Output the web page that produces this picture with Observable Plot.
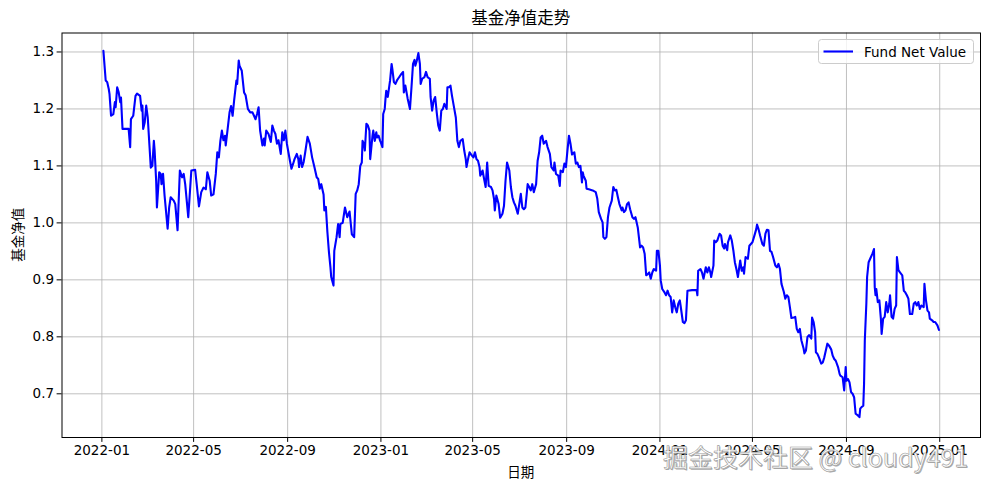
<!DOCTYPE html>
<html><head><meta charset="utf-8">
<script src="https://cdn.jsdelivr.net/npm/d3@7"></script>
<script src="https://cdn.jsdelivr.net/npm/@observablehq/plot@0.6"></script>
<style>html,body{margin:0;padding:0;background:#fff}svg{display:block}</style>
</head><body><div id="chart"></div>
<script>
const chartTitle = "基金净值走势";
const xLabel = "日期";
const yLabel = "基金净值";
const seriesName = "Fund Net Value";
const watermark = "掘金技术社区 @ cloudy491";
const xTickDates = ["2022-01-01","2022-05-01","2022-09-01","2023-01-01","2023-05-01","2023-09-01","2024-01-01","2024-05-01","2024-09-01","2025-01-01"];
const yTicks = [0.7, 0.8, 0.9, 1.0, 1.1, 1.2, 1.3];

const nav2022 = [["01-03",1.302],["01-06",1.250],["01-08",1.247],["01-10",1.235],["01-11",1.226],["01-13",1.188],["01-16",1.191],["01-18",1.212],["01-19",1.203],["01-21",1.238],["01-23",1.229],["01-25",1.212],["01-26",1.220],["01-28",1.165],["02-05",1.165],["02-07",1.133],["02-08",1.182],["02-11",1.188],["02-14",1.223],["02-16",1.227],["02-20",1.223],["02-22",1.197],["02-23",1.206],["02-24",1.165],["02-26",1.176],["02-28",1.206],["03-02",1.185],["03-06",1.097],["03-08",1.100],["03-10",1.144],["03-11",1.127],["03-13",1.074],["03-14",1.027],["03-17",1.089],["03-19",1.086],["03-20",1.068],["03-22",1.086],["03-24",1.048],["03-28",0.990],["03-30",1.027],["04-01",1.045],["04-05",1.039],["04-07",1.033],["04-10",0.987],["04-13",1.092],["04-16",1.080],["04-18",1.086],["04-20",1.068],["04-24",1.010],["04-26",1.051],["04-28",1.092],["05-03",1.093],["05-05",1.068],["05-08",1.029],["05-11",1.054],["05-14",1.062],["05-17",1.059],["05-19",1.089],["05-22",1.074],["05-24",1.048],["05-27",1.050],["05-30",1.086],["06-01",1.124],["06-03",1.115],["06-05",1.144],["06-07",1.162],["06-09",1.145],["06-11",1.153],["06-12",1.136],["06-14",1.159],["06-17",1.194],["06-19",1.205],["06-21",1.188],["06-23",1.215],["06-26",1.250],["06-27",1.244],["06-29",1.285],["06-30",1.276],["07-03",1.267],["07-06",1.229],["07-08",1.224],["07-11",1.200],["07-14",1.194],["07-17",1.194],["07-19",1.188],["07-21",1.182],["07-23",1.191],["07-25",1.203],["07-27",1.162],["07-30",1.136],["08-01",1.148],["08-02",1.136],["08-04",1.162],["08-07",1.156],["08-10",1.142],["08-12",1.171],["08-14",1.162],["08-16",1.156],["08-18",1.139],["08-20",1.145],["08-23",1.121],["08-25",1.159],["08-27",1.145],["08-29",1.162],["08-31",1.139],["09-04",1.109],["09-06",1.095],["09-08",1.103],["09-10",1.112],["09-13",1.121],["09-15",1.112],["09-16",1.098],["09-18",1.118],["09-20",1.098],["09-22",1.107],["09-24",1.124],["09-27",1.151],["09-30",1.139],["10-03",1.115],["10-06",1.098],["10-09",1.080],["10-11",1.077],["10-13",1.060],["10-15",1.068],["10-18",1.050],["10-19",1.022],["10-21",1.028],["10-23",0.984],["10-25",0.949],["10-27",0.922],["10-28",0.905],["10-31",0.890],["11-01",0.951],["11-04",0.975],["11-06",0.998],["11-08",0.975],["11-09",0.998],["11-12",1.000],["11-15",1.027],["11-18",1.010],["11-21",1.020],["11-24",0.980],["11-27",0.975],["11-29",1.051],["12-01",1.057],["12-03",1.068],["12-05",1.100],["12-07",1.106],["12-08",1.144],["12-10",1.138],["12-11",1.127],["12-13",1.174],["12-15",1.171],["12-17",1.162],["12-18",1.112],["12-21",1.153],["12-22",1.162],["12-24",1.144],["12-26",1.159],["12-27",1.150],["12-29",1.153],["12-31",1.144]];

const nav2023 = [["01-01",1.141],["01-03",1.133],["01-04",1.191],["01-06",1.200],["01-07",1.218],["01-08",1.232],["01-10",1.221],["01-13",1.250],["01-15",1.279],["01-16",1.270],["01-18",1.247],["01-20",1.244],["01-22",1.250],["01-25",1.256],["01-28",1.262],["01-30",1.265],["01-31",1.229],["02-02",1.241],["02-05",1.218],["02-07",1.206],["02-08",1.200],["02-10",1.238],["02-12",1.279],["02-14",1.286],["02-15",1.276],["02-17",1.285],["02-19",1.298],["02-21",1.279],["02-22",1.244],["02-24",1.253],["02-27",1.256],["03-01",1.265],["03-03",1.256],["03-06",1.253],["03-07",1.221],["03-09",1.197],["03-11",1.215],["03-13",1.221],["03-15",1.194],["03-17",1.171],["03-19",1.162],["03-21",1.197],["03-23",1.200],["03-25",1.209],["03-28",1.200],["03-29",1.238],["03-31",1.238],["04-02",1.241],["04-04",1.223],["04-07",1.200],["04-09",1.185],["04-11",1.144],["04-13",1.133],["04-15",1.144],["04-18",1.147],["04-20",1.127],["04-22",1.112],["04-23",1.098],["04-25",1.112],["04-27",1.124],["04-30",1.118],["05-02",1.115],["05-04",1.124],["05-06",1.112],["05-08",1.109],["05-10",1.098],["05-11",1.083],["05-14",1.092],["05-16",1.077],["05-18",1.063],["05-20",1.106],["05-22",1.065],["05-25",1.063],["05-27",1.057],["05-29",1.042],["05-30",1.022],["06-01",1.048],["06-04",1.033],["06-06",1.009],["06-09",1.016],["06-11",1.030],["06-13",1.074],["06-15",1.106],["06-18",1.092],["06-20",1.063],["06-22",1.045],["06-24",1.036],["06-26",1.030],["06-29",1.016],["07-01",1.033],["07-03",1.051],["07-05",1.027],["07-07",1.024],["07-09",1.027],["07-12",1.068],["07-14",1.063],["07-16",1.057],["07-18",1.068],["07-20",1.054],["07-23",1.068],["07-25",1.109],["07-27",1.124],["07-29",1.150],["07-31",1.153],["08-02",1.139],["08-05",1.144],["08-07",1.133],["08-10",1.121],["08-12",1.098],["08-15",1.092],["08-16",1.106],["08-18",1.086],["08-21",1.083],["08-23",1.065],["08-24",1.092],["08-27",1.089],["08-29",1.104],["08-31",1.098],["09-02",1.127],["09-04",1.153],["09-06",1.139],["09-08",1.120],["09-11",1.124],["09-13",1.104],["09-15",1.106],["09-17",1.098],["09-19",1.100],["09-21",1.071],["09-22",1.089],["09-23",1.083],["09-26",1.074],["09-27",1.060],["09-30",1.059],["10-05",1.057],["10-09",1.054],["10-11",1.043],["10-13",1.019],["10-16",1.007],["10-18",1.001],["10-19",0.975],["10-21",0.972],["10-23",0.975],["10-25",1.010],["10-27",1.027],["10-30",1.039],["11-01",1.063],["11-03",1.057],["11-05",1.058],["11-07",1.045],["11-09",1.033],["11-12",1.022],["11-13",1.027],["11-15",1.019],["11-17",1.022],["11-19",1.033],["11-21",1.036],["11-23",1.024],["11-26",1.010],["11-28",1.007],["11-30",1.010],["12-03",0.992],["12-05",0.969],["12-06",0.957],["12-08",0.960],["12-10",0.957],["12-12",0.946],["12-14",0.908],["12-16",0.910],["12-18",0.913],["12-20",0.902],["12-22",0.913],["12-24",0.919],["12-27",0.916],["12-28",0.951],["12-30",0.951]];

const nav2024 = [["01-01",0.925],["01-02",0.899],["01-04",0.884],["01-07",0.878],["01-09",0.873],["01-11",0.881],["01-13",0.873],["01-15",0.870],["01-17",0.843],["01-19",0.864],["01-21",0.852],["01-23",0.843],["01-25",0.858],["01-27",0.864],["01-28",0.855],["01-31",0.826],["02-02",0.824],["02-04",0.829],["02-06",0.881],["02-12",0.882],["02-18",0.882],["02-19",0.873],["02-20",0.916],["02-23",0.919],["02-25",0.913],["02-27",0.902],["03-01",0.922],["03-03",0.913],["03-05",0.922],["03-07",0.913],["03-08",0.905],["03-11",0.925],["03-12",0.969],["03-14",0.966],["03-16",0.969],["03-19",0.981],["03-21",0.978],["03-23",0.960],["03-25",0.955],["03-26",0.963],["03-29",0.952],["03-30",0.966],["04-02",0.978],["04-04",0.969],["04-06",0.952],["04-08",0.931],["04-10",0.919],["04-12",0.905],["04-15",0.934],["04-17",0.916],["04-19",0.922],["04-20",0.911],["04-22",0.940],["04-25",0.937],["04-27",0.960],["04-29",0.963],["05-01",0.966],["05-03",0.975],["05-06",0.989],["05-07",0.997],["05-09",0.989],["05-11",0.978],["05-14",0.963],["05-16",0.960],["05-18",0.981],["05-20",0.988],["05-22",0.987],["05-24",0.951],["05-26",0.949],["05-28",0.940],["05-31",0.925],["06-02",0.922],["06-04",0.928],["06-06",0.919],["06-08",0.893],["06-11",0.879],["06-13",0.867],["06-15",0.873],["06-17",0.870],["06-19",0.852],["06-21",0.833],["06-24",0.834],["06-26",0.835],["06-28",0.814],["06-30",0.808],["07-02",0.814],["07-04",0.794],["07-07",0.779],["07-08",0.771],["07-10",0.776],["07-12",0.800],["07-14",0.803],["07-17",0.797],["07-18",0.834],["07-20",0.826],["07-22",0.808],["07-23",0.773],["07-25",0.770],["07-27",0.764],["07-30",0.753],["08-01",0.755],["08-03",0.764],["08-05",0.776],["08-07",0.788],["08-09",0.785],["08-12",0.778],["08-14",0.767],["08-16",0.761],["08-18",0.758],["08-21",0.747],["08-23",0.735],["08-24",0.732],["08-27",0.729],["08-29",0.706],["08-31",0.747],["09-01",0.723],["09-03",0.726],["09-05",0.720],["09-07",0.703],["09-09",0.700],["09-11",0.694],["09-13",0.665],["09-16",0.662],["09-18",0.659],["09-19",0.674],["09-21",0.677],["09-23",0.679],["09-24",0.717],["09-25",0.794],["09-27",0.858],["09-28",0.905],["09-30",0.931],["10-02",0.937],["10-05",0.946],["10-07",0.954],["10-08",0.887],["10-09",0.873],["10-10",0.884],["10-12",0.861],["10-14",0.864],["10-16",0.832],["10-17",0.805],["10-19",0.832],["10-21",0.835],["10-23",0.861],["10-25",0.843],["10-27",0.858],["10-28",0.873],["10-30",0.835],["11-01",0.832],["11-03",0.849],["11-05",0.855],["11-06",0.940],["11-08",0.917],["11-10",0.913],["11-13",0.908],["11-15",0.881],["11-17",0.878],["11-19",0.873],["11-21",0.867],["11-23",0.840],["11-26",0.840],["11-28",0.858],["11-30",0.861],["12-02",0.855],["12-04",0.861],["12-06",0.849],["12-08",0.855],["12-11",0.852],["12-12",0.893],["12-14",0.864],["12-16",0.846],["12-18",0.843],["12-19",0.832],["12-22",0.829],["12-24",0.826],["12-26",0.826],["12-29",0.820],["12-31",0.812]];

const years = {2022: nav2022, 2023: nav2023, 2024: nav2024};
const rows = [];
for (const [yr, list] of Object.entries(years)) {
  for (const [md, v] of list) rows.push({date: new Date(`${yr}-${md}T00:00:00Z`), nav: v});
}

const W = 989, H = 490;
const mL = 61.5, mR = 9, mT = 32.5, mB = 53;
const font = "'DejaVu Sans', 'Noto Sans CJK SC', sans-serif";
const xTicks = xTickDates.map(d => new Date(d + "T00:00:00Z"));

const plot = Plot.plot({
  width: W, height: H,
  marginLeft: mL, marginRight: mR, marginTop: mT, marginBottom: mB,
  style: {fontFamily: font, fontSize: "13.5px", background: "white", color: "black", overflow: "visible"},
  x: {type: "utc", domain: [new Date("2021-11-09T20:00:00Z"), new Date("2025-02-23T08:00:00Z")]},
  y: {domain: [0.6233, 1.3333]},
  marks: [
    Plot.gridX({ticks: xTicks, stroke: "#b0b0b0", strokeOpacity: 1, strokeWidth: 0.8}),
    Plot.gridY({ticks: yTicks, stroke: "#b0b0b0", strokeOpacity: 1, strokeWidth: 0.8}),
    Plot.line(rows, {x: "date", y: "nav", stroke: "#0000ff", strokeWidth: 2.1}),
    Plot.frame({stroke: "black", strokeWidth: 1}),
    Plot.axisX({ticks: xTicks, tickFormat: d3.utcFormat("%Y-%m"), tickSize: 4.9, tickPadding: 3, label: null, strokeWidth: 1}),
    Plot.axisY({ticks: yTicks, tickFormat: d3.format(".1f"), tickSize: 4.9, tickPadding: 3, label: null, strokeWidth: 1})
  ]
});
document.getElementById("chart").appendChild(plot);

const svg = d3.select(plot);
const cx = mL + (W - mL - mR) / 2;
const cy = mT + (H - mT - mB) / 2;
svg.append("text").attr("x", cx).attr("y", 18).attr("text-anchor", "middle").attr("dominant-baseline", "central")
  .style("font-family", font).style("font-size", "16.5px").attr("fill", "black").text(chartTitle);
svg.append("text").attr("x", cx).attr("y", 472).attr("text-anchor", "middle").attr("dominant-baseline", "central")
  .style("font-family", font).style("font-size", "13.5px").attr("fill", "black").text(xLabel);
svg.append("text").attr("transform", `translate(17.5,${cy}) rotate(-90)`).attr("text-anchor", "middle").attr("dominant-baseline", "central")
  .style("font-family", font).style("font-size", "13.5px").attr("fill", "black").text(yLabel);

// legend
const lg = svg.append("g");
lg.append("rect").attr("x", 818.5).attr("y", 39.5).attr("width", 155).attr("height", 24).attr("rx", 3)
  .attr("fill", "white").attr("fill-opacity", 0.8).attr("stroke", "#cccccc").attr("stroke-width", 1);
lg.append("line").attr("x1", 823.5).attr("x2", 853).attr("y1", 51.5).attr("y2", 51.5)
  .attr("stroke", "#0000ff").attr("stroke-width", 2.1);
lg.append("text").attr("x", 864).attr("y", 51.5).attr("text-anchor", "start").attr("dominant-baseline", "central")
  .style("font-family", font).style("font-size", "13.5px").attr("fill", "black").text(seriesName);

// watermark
const wm = svg.append("g").style("font-family", "'Noto Sans CJK SC', sans-serif").style("font-size", "25px").attr("text-anchor", "start");
wm.append("text").attr("x", 664).attr("y", 468).attr("text-anchor", "start").attr("fill", "#888").attr("opacity", 0.7).text(watermark);
wm.append("text").attr("x", 663).attr("y", 467).attr("text-anchor", "start").attr("fill", "white").attr("stroke", "#999").attr("stroke-width", 0.6).text(watermark);
</script>
</body></html>
